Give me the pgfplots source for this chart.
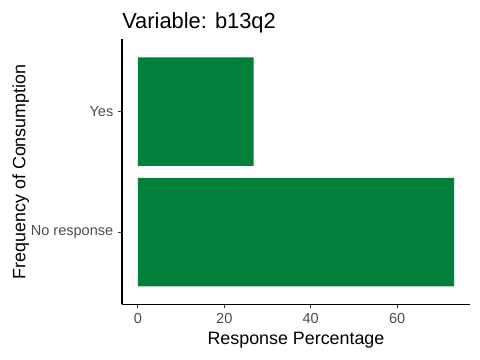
\documentclass[border=0pt]{standalone}
\usepackage{pgfplots}
\pgfplotsset{compat=1.18}
\usepackage{fontspec}
\setmainfont{Liberation Sans}
\definecolor{barg}{HTML}{00803A}
\definecolor{tickc}{HTML}{4D4D4D}
\definecolor{tickm}{HTML}{333333}
\begin{document}
\begin{tikzpicture}
\path[use as bounding box] (-91.5pt,-41.75pt) rectangle (268.5pt,228.25pt);
\begin{axis}[
  at={(0,0)}, anchor=south west,
  scale only axis, width=261pt, height=198.75pt,
  xbar, bar width=0.9, bar shift=0pt,
  xmin=-3.66, xmax=76.86, ymin=0.4, ymax=2.6,
  ytick={1,2}, yticklabels={No response, Yes},
  xtick={0,20,40,60},
  axis x line*=bottom, axis y line*=left,
  axis line style={black, line width=0.8pt, -},
  tick align=outside, major tick length=3pt,
  tick style={tickm, line width=0.8pt},
  /pgf/number format/assume math mode=true,
  ticklabel style={font=\fontsize{10.9}{12}\selectfont, text=tickc},
  title={Variable: b13q2},
  title style={at={(axis description cs:0,1)}, anchor=base west, yshift=2.3pt, font=\fontsize{16.4}{19}\selectfont, inner sep=0pt},
  xlabel={Response Percentage},
  xlabel style={at={(axis description cs:0.5,0)}, anchor=base, yshift=-30pt, font=\fontsize{13.4}{15}\selectfont, inner sep=0pt},
  ylabel={Frequency of Consumption},
  ylabel style={at={([xshift=-72.5pt]axis description cs:0,0.5)}, anchor=base, rotate=0, font=\fontsize{13.4}{15}\selectfont, inner sep=0pt},
]
\addplot[draw=none, fill=barg] coordinates {(73.2,1) (26.8,2)};
\end{axis}
\end{tikzpicture}
\end{document}
